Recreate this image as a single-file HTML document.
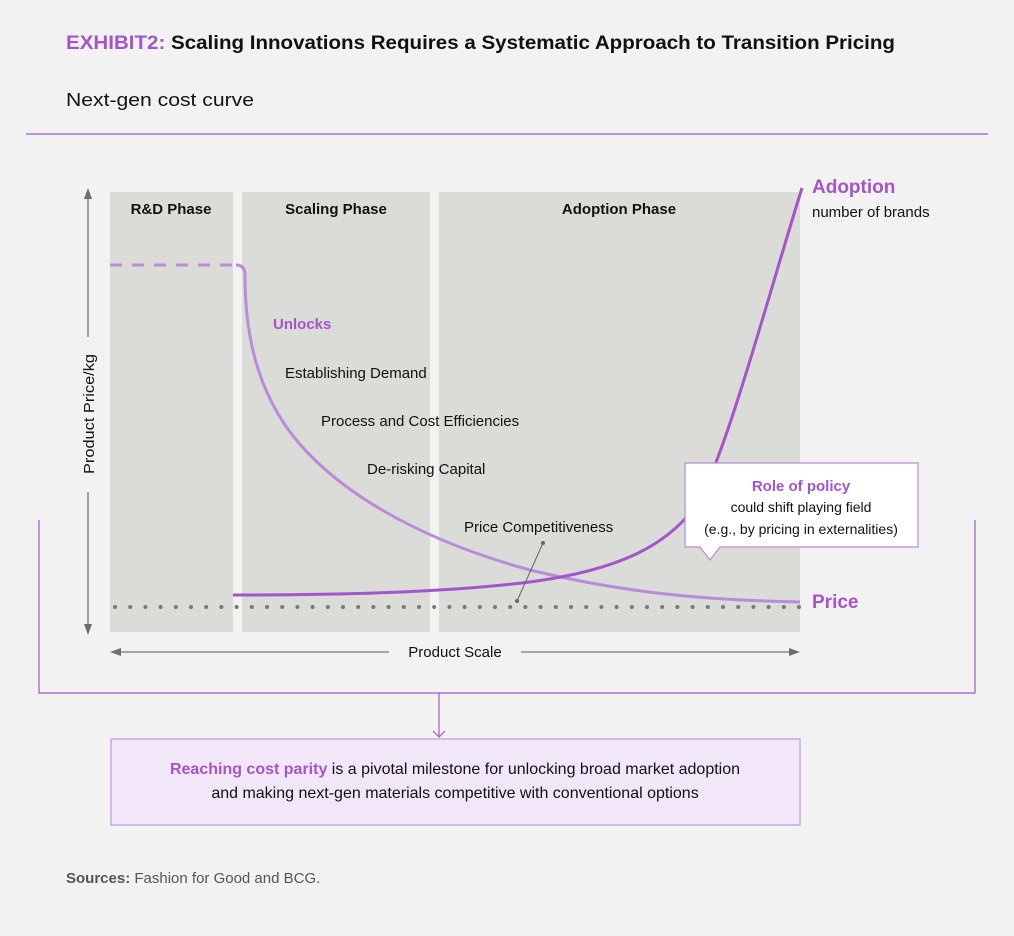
<!DOCTYPE html>
<html><head><meta charset="utf-8"><style>
html,body{margin:0;padding:0;background:#f2f2f2;}
svg{display:block;font-family:"Liberation Sans",sans-serif;}
</style></head><body>
<svg width="1014" height="936" viewBox="0 0 1014 936" xmlns="http://www.w3.org/2000/svg">
<rect width="1014" height="936" fill="#f2f2f2"/>
<text x="66" y="49" font-size="19" font-weight="bold" fill="#111" textLength="829" lengthAdjust="spacingAndGlyphs"><tspan fill="#a355c9">EXHIBIT2:</tspan> Scaling Innovations Requires a Systematic Approach to Transition Pricing</text>
<text x="66" y="106" font-size="18" fill="#111" textLength="188" lengthAdjust="spacingAndGlyphs">Next-gen cost curve</text>
<line x1="26" y1="134" x2="988" y2="134" stroke="#a355c9" stroke-width="1.2"/>

<rect x="110" y="192" width="123" height="440" fill="#dbdbd7"/>
<rect x="242" y="192" width="188" height="440" fill="#dbdbd7"/>
<rect x="439" y="192" width="361" height="440" fill="#dbdbd7"/>
<g font-size="15" font-weight="bold" fill="#111" text-anchor="middle">
<text x="171" y="214">R&amp;D Phase</text>
<text x="336" y="214">Scaling Phase</text>
<text x="619" y="214">Adoption Phase</text>
</g>

<line x1="115" y1="607" x2="800" y2="607" stroke="#777" stroke-width="4" stroke-linecap="round" stroke-dasharray="0 15.2"/>

<!-- Y axis -->
<line x1="88" y1="198" x2="88" y2="337" stroke="#777" stroke-width="1.3"/>
<line x1="88" y1="492" x2="88" y2="625" stroke="#777" stroke-width="1.3"/>
<polygon points="88,188 84,199 92,199" fill="#6e6e70"/>
<polygon points="88,635 84,624 92,624" fill="#6e6e70"/>
<text transform="translate(94,414) rotate(-90)" font-size="15" fill="#111" text-anchor="middle" textLength="120" lengthAdjust="spacingAndGlyphs" x="0" y="0">Product Price/kg</text>

<!-- X axis -->
<line x1="120" y1="652" x2="389" y2="652" stroke="#777" stroke-width="1.3"/>
<line x1="521" y1="652" x2="790" y2="652" stroke="#777" stroke-width="1.3"/>
<polygon points="110,652 121,648 121,656" fill="#6e6e70"/>
<polygon points="800,652 789,648 789,656" fill="#6e6e70"/>
<text x="455" y="657" font-size="15" fill="#111" text-anchor="middle">Product Scale</text>

<!-- price curve -->
<line x1="110" y1="265" x2="236" y2="265" stroke="#b98bd8" stroke-width="3" stroke-dasharray="12 10"/>
<path d="M236,265 Q245,265 245,275 C245,330 255,380 285,425 C330,490 420,540 530,570 C620,592 700,600 800,602" fill="none" stroke="#b98bd8" stroke-width="3"/>
<!-- adoption curve -->
<path d="M233,595 C350,595 450,592 530,582 C620,570 670,545 700,500 C730,440 770,290 802,188" fill="none" stroke="#a355c9" stroke-width="3"/>

<text x="273" y="329" font-size="15" font-weight="bold" fill="#a355c9">Unlocks</text>
<g font-size="15" fill="#111">
<text x="285" y="378">Establishing Demand</text>
<text x="321" y="426">Process and Cost Efficiencies</text>
<text x="367" y="474">De-risking Capital</text>
<text x="464" y="532">Price Competitiveness</text>
</g>
<line x1="543" y1="543" x2="517" y2="601" stroke="#666" stroke-width="1"/>
<circle cx="543" cy="543" r="2" fill="#666"/><circle cx="517" cy="601" r="2" fill="#666"/>

<text x="812" y="193" font-size="19" font-weight="bold" fill="#a355c9">Adoption</text>
<text x="812" y="217" font-size="15" fill="#111">number of brands</text>
<text x="812" y="608" font-size="19" font-weight="bold" fill="#a355c9">Price</text>

<!-- policy callout -->
<path d="M685,463 H918 V547 H720 L710,560 L700,547 H685 Z" fill="#fff" stroke="#b98bd8" stroke-width="1.2"/>
<text x="801" y="491" font-size="15" font-weight="bold" fill="#a355c9" text-anchor="middle">Role of policy</text>
<text x="801" y="512" font-size="14" fill="#111" text-anchor="middle">could shift playing field</text>
<text x="801" y="534" font-size="14" fill="#111" text-anchor="middle">(e.g., by pricing in externalities)</text>

<!-- frame -->
<path d="M39,520 V693 H975 V520" fill="none" stroke="#a355c9" stroke-width="1.2"/>
<line x1="439" y1="693" x2="439" y2="737" stroke="#a355c9" stroke-width="1.2"/>
<polyline points="433,731 439,737 445,731" fill="none" stroke="#a355c9" stroke-width="1.2"/>
<rect x="111" y="739" width="689" height="86" fill="#f1e7f8" stroke="#c79be0" stroke-width="1.3"/>
<text x="455" y="774" font-size="16" fill="#111" text-anchor="middle"><tspan fill="#a355c9" font-weight="bold">Reaching cost parity</tspan> is a pivotal milestone for unlocking broad market adoption</text>
<text x="455" y="798" font-size="16" fill="#111" text-anchor="middle">and making next-gen materials competitive with conventional options</text>

<text x="66" y="883" font-size="15" fill="#555"><tspan font-weight="bold">Sources:</tspan> Fashion for Good and BCG.</text>
</svg>
</body></html>
